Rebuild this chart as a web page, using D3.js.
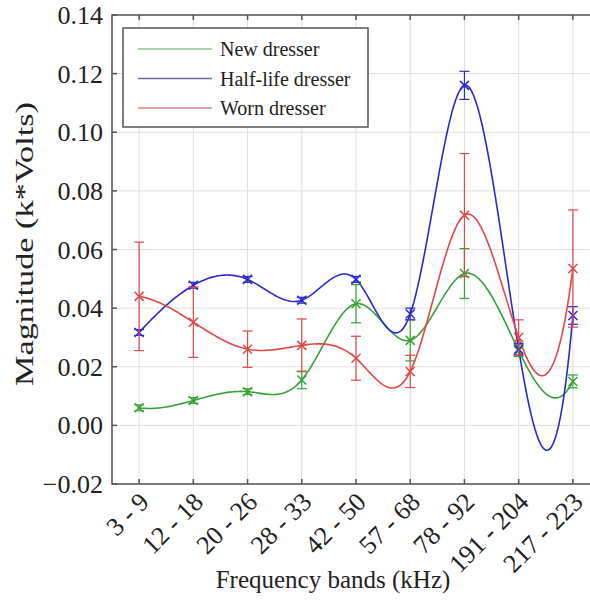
<!DOCTYPE html>
<html><head><meta charset="utf-8">
<script src="https://cdn.jsdelivr.net/npm/d3@7"></script>
<style>html,body{margin:0;padding:0;background:#fff;}svg{display:block;}</style>
</head><body>
<svg id="chart" width="590" height="603"></svg>
<script>
const categories = ["3 - 9","12 - 18","20 - 26","28 - 33","42 - 50","57 - 68","78 - 92","191 - 204","217 - 223"];
const yTicks = [-0.02, 0.00, 0.02, 0.04, 0.06, 0.08, 0.10, 0.12, 0.14];
const seriesNames = ["New dresser", "Half-life dresser", "Worn dresser"];
const newMean  = [0.0060, 0.0085, 0.0115, 0.0155, 0.0415, 0.0290, 0.0518, 0.0255, 0.0150];
const newErr   = [0.0010, 0.0010, 0.0010, 0.0030, 0.0065, 0.0070, 0.0085, 0.0020, 0.0022];
const halfMean = [0.0317, 0.0478, 0.0498, 0.0427, 0.0498, 0.0380, 0.1160, 0.0260, 0.0375];
const halfErr  = [0.0010, 0.0010, 0.0010, 0.0010, 0.0010, 0.0020, 0.0048, 0.0020, 0.0030];
const wornMean = [0.0440, 0.0352, 0.0260, 0.0273, 0.0229, 0.0184, 0.0717, 0.0300, 0.0535];
const wornErr  = [0.0185, 0.0120, 0.0062, 0.0090, 0.0075, 0.0055, 0.0210, 0.0060, 0.0200];

const series = [
  {name: seriesNames[0], mean: newMean,  err: newErr,  color: "#38a038", legend: "#8cc48c"},
  {name: seriesNames[1], mean: halfMean, err: halfErr, color: "#2a2ad0", legend: "#6a6aa8"},
  {name: seriesNames[2], mean: wornMean, err: wornErr, color: "#e04848", legend: "#e08080"}
];

const svg = d3.select("#chart");
const L = 112, R = 600, T = 15, B = 484;
const x = d3.scaleLinear().domain([0.5, categories.length + 0.5]).range([L, R]);
const y = d3.scaleLinear().domain([-0.02, 0.14]).range([B, T]);
const serif = "'Liberation Serif','Times New Roman',serif";

// grid
const grid = svg.append("g");
grid.selectAll(".gx").data(categories).join("line")
  .attr("x1", (d,i)=>x(i+1)).attr("x2", (d,i)=>x(i+1)).attr("y1", T).attr("y2", B)
  .attr("stroke", "#dedede").attr("stroke-width", 1);
grid.selectAll(".gy").data(yTicks).join("line")
  .attr("x1", L).attr("x2", R).attr("y1", d=>y(d)).attr("y2", d=>y(d))
  .attr("stroke", "#dedede").attr("stroke-width", 1);

// not-a-knot cubic spline (as MATLAB spline)
function splineM(ys) {
  const n = ys.length;
  const A = Array.from({length: n}, () => new Array(n).fill(0));
  const b = new Array(n).fill(0);
  A[0][0] = 1; A[0][1] = -2; A[0][2] = 1;
  for (let i = 1; i < n - 1; i++) {
    A[i][i-1] = 1; A[i][i] = 4; A[i][i+1] = 1;
    b[i] = 6 * (ys[i-1] - 2*ys[i] + ys[i+1]);
  }
  A[n-1][n-3] = 1; A[n-1][n-2] = -2; A[n-1][n-1] = 1;
  for (let c = 0; c < n; c++) {
    let p = c;
    for (let r = c+1; r < n; r++) if (Math.abs(A[r][c]) > Math.abs(A[p][c])) p = r;
    [A[c], A[p]] = [A[p], A[c]]; [b[c], b[p]] = [b[p], b[c]];
    for (let r = c+1; r < n; r++) {
      const f = A[r][c] / A[c][c];
      if (!f) continue;
      for (let k = c; k < n; k++) A[r][k] -= f * A[c][k];
      b[r] -= f * b[c];
    }
  }
  const M = new Array(n).fill(0);
  for (let r = n-1; r >= 0; r--) {
    let s = b[r];
    for (let k = r+1; k < n; k++) s -= A[r][k] * M[k];
    M[r] = s / A[r][r];
  }
  return M;
}
function splinePts(ys) {
  const M = splineM(ys), pts = [];
  for (let i = 0; i < ys.length - 1; i++) {
    const steps = 30;
    for (let s = 0; s <= steps; s++) {
      if (i > 0 && s === 0) continue;
      const t = s / steps, u = 1 - t;
      const v = u*ys[i] + t*ys[i+1] + ((u*u*u - u)*M[i] + (t*t*t - t)*M[i+1]) / 6;
      pts.push([i + 1 + t, v]);
    }
  }
  return pts;
}

const line = d3.line().x(d=>x(d[0])).y(d=>y(d[1]));
const plot = svg.append("g");
series.forEach(s => {
  plot.append("path").attr("d", line(splinePts(s.mean)))
    .attr("fill", "none").attr("stroke", s.color).attr("stroke-width", 1.6);
});
series.forEach(s => {
  const g = plot.append("g").attr("stroke", s.color).attr("stroke-width", 1.2).attr("fill", "none");
  s.mean.forEach((m, i) => {
    const cx = x(i+1), lo = y(m - s.err[i]), hi = y(m + s.err[i]), cy = y(m), c = 5, k = 4.5;
    g.append("line").attr("x1", cx).attr("x2", cx).attr("y1", lo).attr("y2", hi);
    g.append("line").attr("x1", cx-c).attr("x2", cx+c).attr("y1", lo).attr("y2", lo);
    g.append("line").attr("x1", cx-c).attr("x2", cx+c).attr("y1", hi).attr("y2", hi);
    g.append("line").attr("x1", cx-k).attr("x2", cx+k).attr("y1", cy-k).attr("y2", cy+k).attr("stroke-width", 1.5);
    g.append("line").attr("x1", cx-k).attr("x2", cx+k).attr("y1", cy+k).attr("y2", cy-k).attr("stroke-width", 1.5);
  });
});

// frame + ticks
const ax = svg.append("g").attr("stroke", "#555").attr("stroke-width", 1.5);
ax.append("rect").attr("x", L).attr("y", T).attr("width", R-L).attr("height", B-T).attr("fill", "none");
categories.forEach((c, i) => {
  ax.append("line").attr("x1", x(i+1)).attr("x2", x(i+1)).attr("y1", B).attr("y2", B-5);
  ax.append("line").attr("x1", x(i+1)).attr("x2", x(i+1)).attr("y1", T).attr("y2", T+5);
});
yTicks.forEach(v => {
  ax.append("line").attr("x1", L).attr("x2", L+5).attr("y1", y(v)).attr("y2", y(v));
});

// tick labels
svg.append("g").selectAll("text").data(yTicks).join("text")
  .attr("x", L-9).attr("y", d=>y(d)).attr("dy", "0.35em")
  .attr("text-anchor", "end").attr("font-family", serif).attr("font-size", 26).attr("fill", "#222")
  .text(d => d3.format(".2f")(d));
svg.append("g").selectAll("text").data(categories).join("text")
  .attr("transform", (d,i)=>`translate(${x(i+1)+5},${B+13}) rotate(-45)`)
  .attr("dy", "0.35em").attr("text-anchor", "end")
  .attr("font-family", serif).attr("font-size", 26).attr("fill", "#222")
  .text(d=>d);

// axis titles
svg.append("text").attr("x", 333).attr("y", 588).attr("text-anchor", "middle")
  .attr("font-family", serif).attr("font-size", 25).attr("fill", "#222").text("Frequency bands (kHz)");
svg.append("text").attr("transform", "translate(33,244) rotate(-90)").attr("text-anchor", "middle")
  .attr("font-family", serif).attr("font-size", 26).attr("fill", "#222")
  .attr("textLength", 284).attr("lengthAdjust", "spacingAndGlyphs")
  .text("Magnitude (k*Volts)");

// legend
const lg = svg.append("g");
lg.append("rect").attr("x", 123).attr("y", 28).attr("width", 245).attr("height", 99)
  .attr("fill", "#fff").attr("stroke", "#555").attr("stroke-width", 1.5);
series.forEach((s, i) => {
  const ly = 49 + i * 29.5;
  lg.append("line").attr("x1", 138).attr("x2", 212).attr("y1", ly).attr("y2", ly)
    .attr("stroke", s.legend).attr("stroke-width", 1.5);
  lg.append("text").attr("x", 220).attr("y", ly).attr("dy", "0.35em")
    .attr("font-family", serif).attr("font-size", 20).attr("fill", "#222").text(s.name);
});
</script>
</body></html>
